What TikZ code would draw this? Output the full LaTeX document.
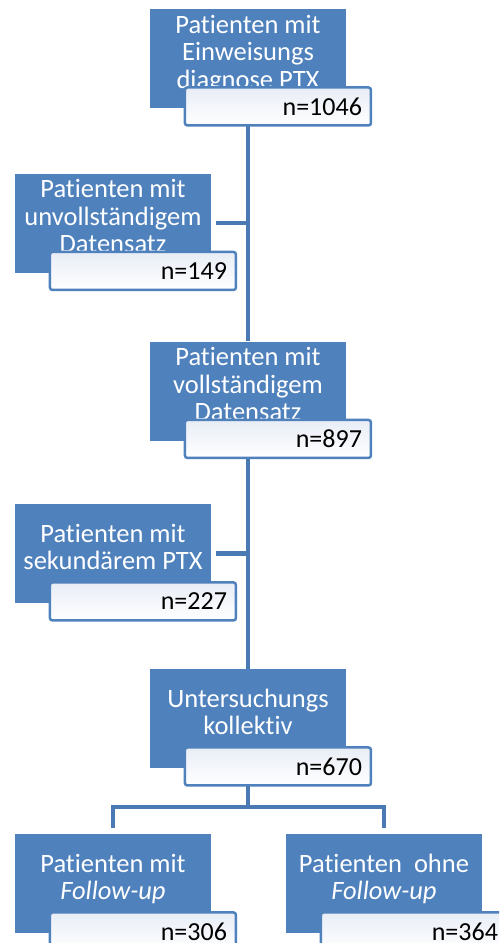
\documentclass[tikz,border=0pt]{standalone}
\usepackage{fontspec}
\setmainfont{Carlito}[Ligatures=NoCommon]
\usetikzlibrary{positioning, calc}

\definecolor{stageblue}{HTML}{4F81BD}
\definecolor{linkblue}{HTML}{4A7AB3}
\definecolor{countfill}{HTML}{E8EDF6}

\begin{document}
\begin{tikzpicture}[
    x=1pt, y=1pt,
    stage/.style={rectangle, fill=stageblue, minimum width=196pt, minimum height=99pt, inner sep=0pt},
    stagetext/.style={text=white, align=center, font=\fontsize{26.5}{27.5}\selectfont, yshift=2.5pt,
        execute at begin node=\strut, execute at end node=\strut},
    count/.style={rectangle, draw=stageblue, line width=2.5pt, rounded corners=2.5pt,
        top color=countfill, middle color=countfill, bottom color=white,
        minimum height=38pt, text width=168pt, inner xsep=9pt, align=right,
        font=\fontsize{26}{30}\selectfont, anchor=north east, xshift=26pt, yshift=22pt},
    link/.style={draw=linkblue, line width=4.5pt}
]
\useasboundingbox (0,0) rectangle (499,-943);
\clip (0,0) rectangle (499,-943);

% Stages
\node[stage, label={[stagetext]center:Patienten mit\\Einweisungs\\diagnose PTX}] (referral) at (248,-58.5) {};
\node[stage, label={[stagetext]center:Patienten mit\\unvollständigem\\Datensatz}] (incomplete) at (113,-223) {};
\node[stage, label={[stagetext]center:Patienten mit\\vollständigem\\Datensatz}] (complete) at (248,-391) {};
\node[stage, label={[stagetext]center:Patienten mit\\sekundärem PTX}] (secondary) at (113,-553.5) {};
\node[stage, label={[stagetext]center:Untersuchungs\\kollektiv}] (cohort) at (248,-718.5) {};
\node[stage, label={[stagetext]center:Patienten mit\\\textit{Follow-up}}] (followup) at (113,-883.5) {};
\node[stage, label={[stagetext]center:Patienten\ \ ohne\\\textit{Follow-up}}] (nofollowup) at (384,-883.5) {};

% Connectors
\coordinate (fork) at ($(cohort.south)+(0,-39)$);
\draw[link] (referral.south) -- (complete.north);
\draw[link] (complete.south) -- (cohort.north);
\draw[link, shorten <=5pt] (incomplete.east) -- (incomplete.east -| referral.south);
\draw[link, shorten <=5pt] (secondary.east) -- (secondary.east -| complete.south);
\draw[link] (cohort.south) -- (fork);
\draw[link, shorten <=6pt, shorten >=6pt] (followup.north) |- (fork) -| (nofollowup.north);

% Counts
\node[count] (referral-n) at (referral.south east) {n=1046};
\node[count] (incomplete-n) at (incomplete.south east) {n=149};
\node[count] (complete-n) at (complete.south east) {n=897};
\node[count] (secondary-n) at (secondary.south east) {n=227};
\node[count] (cohort-n) at (cohort.south east) {n=670};
\node[count] (followup-n) at (followup.south east) {n=306};
\node[count] (nofollowup-n) at (nofollowup.south east) {n=364};

\end{tikzpicture}
\end{document}
